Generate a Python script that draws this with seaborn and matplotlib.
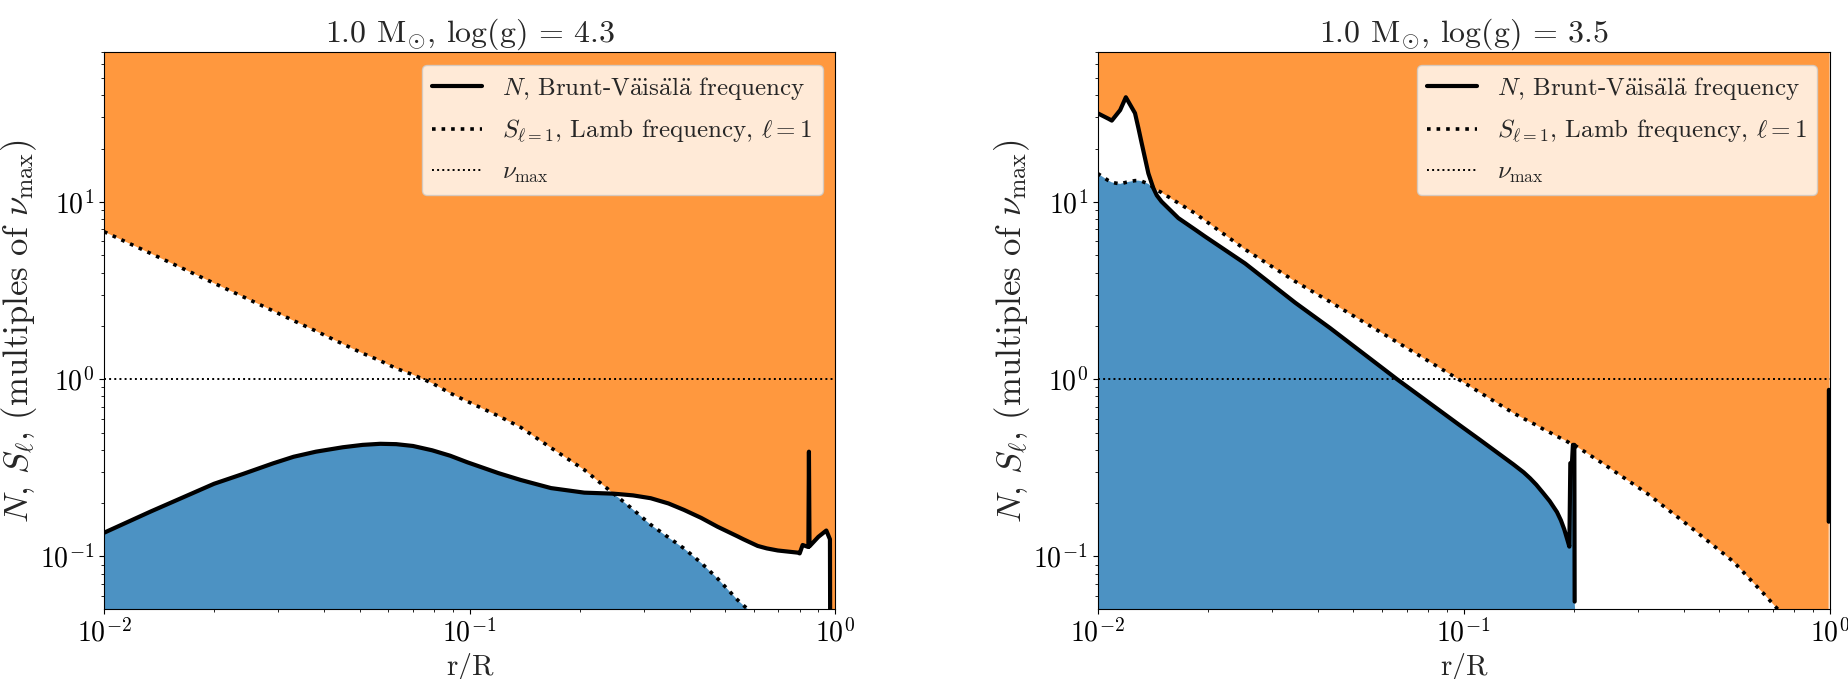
import numpy as np
import pandas as pd
import matplotlib.pyplot as plt
from matplotlib.lines import Line2D
import seaborn as sns

nan = np.nan

# left panel, log(g) = 4.3
left_r = [0.01, 0.0134, 0.02, 0.024, 0.029, 0.033, 0.038, 0.045, 0.051, 0.057,
          0.063, 0.070, 0.079, 0.0885, 0.0985, 0.12, 0.138, 0.167, 0.206, 0.247,
          0.254, 0.28, 0.313, 0.35, 0.386, 0.43, 0.477, 0.54, 0.561, 0.614,
          0.65, 0.697, 0.791, 0.80, 0.815, 0.845, 0.848, 0.851, 0.90, 0.946,
          0.968, 0.971, 0.98, 1.0]
left_N = [0.136, 0.179, 0.257, 0.292, 0.335, 0.365, 0.39, 0.413, 0.426, 0.432,
          0.430, 0.420, 0.397, 0.370, 0.340, 0.295, 0.270, 0.243, 0.229, 0.226,
          0.225, 0.221, 0.213, 0.199, 0.183, 0.165, 0.147, 0.13, 0.125, 0.1146,
          0.111, 0.108, 0.105, 0.104, 0.116, 0.113, 0.39, 0.114, 0.129, 0.140,
          0.125, 0.01, nan, nan]
left_S = [6.8, 5.13, 3.48, 2.92, 2.43, 2.14, 1.87, 1.58, 1.40, 1.27,
          1.15, 1.06, 0.95, 0.834, 0.75, 0.62, 0.535, 0.41, 0.308, 0.227,
          0.217, 0.184, 0.151, 0.128, 0.111, 0.092, 0.075, 0.057, 0.053, 0.045,
          0.04, 0.035, 0.026, 0.025, 0.024, 0.022, 0.022, 0.022, 0.018, 0.015,
          0.014, 0.014, 0.013, 0.012]

# right panel, log(g) = 3.5
right_r = [0.01, 0.01071, 0.01094, 0.01153, 0.01195, 0.01266, 0.01294, 0.0132, 0.01377, 0.0142,
           0.01452, 0.01496, 0.01663, 0.01845, 0.01968, 0.0253, 0.0347, 0.0431, 0.0658, 0.0968,
           0.111, 0.137, 0.146, 0.152, 0.158, 0.165, 0.172, 0.180, 0.1845, 0.1885,
           0.192, 0.1946, 0.1958, 0.1978, 0.1990, 0.2008, 0.2012, 0.241, 0.317, 0.416,
           0.546, 0.659, 0.718, 0.80, 0.90, 0.994, 0.995, 0.996, 1.0]
right_N = [31.7, 29.5, 28.8, 33.0, 39.0, 31.7, 26.0, 21.5, 14.5, 12.0,
           10.9, 10.05, 8.11, 7.0, 6.38, 4.5, 2.7, 1.95, 1.0, 0.557,
           0.454, 0.33, 0.298, 0.276, 0.254, 0.228, 0.205, 0.178, 0.16, 0.142,
           0.125, 0.1136, 0.336, 0.336, 0.426, 0.426, 0.0556, nan, nan, nan,
           nan, nan, nan, nan, nan, nan, 0.157, 0.871, nan]
right_S = [14.5, 13.2, 12.9, 12.65, 12.9, 13.2, 13.2, 13.1, 12.65, 12.1,
           11.7, 11.3, 9.86, 8.65, 7.85, 5.4, 3.56, 2.74, 1.62, 1.0,
           0.84, 0.643, 0.60, 0.573, 0.551, 0.523, 0.501, 0.476, 0.464, 0.455,
           0.445, 0.437, 0.435, 0.43, 0.428, 0.424, 0.424, 0.333, 0.227, 0.147,
           0.0935, 0.062, 0.051, 0.04, 0.03, 0.02, 0.02, 0.02, 0.02]

titles = [r'1.0 M$_{\odot}$, log(g) = 4.3',
          r'1.0 M$_{\odot}$, log(g) = 3.5']
legend_labels = [r'$N$, Brunt-V$\ddot{\mathrm{a}}$is$\ddot{\mathrm{a}}$l$\ddot{\mathrm{a}}$ frequency',
                 r'$S_{\ell=1}$, Lamb frequency, $\ell = 1$',
                 r'$\nu_{\mathrm{max}}$']
ylabel = r'$N$, $S_\ell$, (multiples of $\nu_{\mathrm{max}}$)'

sns.set_style('ticks')
plt.rcParams.update({
    'font.family': ['cmr10', 'STIXGeneral'],
    'mathtext.fontset': 'cm',
    'axes.formatter.use_mathtext': True,
    'axes.unicode_minus': False,
    'axes.edgecolor': 'black',
    'xtick.color': 'black',
    'ytick.color': 'black',
})

fig = plt.figure(figsize=(18.48, 6.79), dpi=100)
ax1 = fig.add_axes([0.0563, 0.1031, 0.3956, 0.8203])
ax2 = fig.add_axes([0.5939, 0.1031, 0.3961, 0.8203])


def draw_panel(ax, r, N, S, title):
    r = np.array(r)
    N = np.array(N)
    S = np.array(S)
    ax.set_xscale('log')
    ax.set_yscale('log')

    # g-mode cavity below, p-mode cavity above
    blue_top = np.where(np.isnan(N), 1e-4, np.fmin(N, S))
    orange_bottom = np.fmax(N, S)
    ax.fill_between(r, 1e-4, blue_top, color='tab:blue', alpha=0.8, lw=0)
    ax.fill_between(r, orange_bottom, 1e4, color='tab:orange', alpha=0.8, lw=0)

    seg = np.cumsum(np.isnan(N))
    df = pd.DataFrame({'r': r, 'N': N, 'seg': seg}).dropna()
    sns.lineplot(data=df, x='r', y='N', units='seg', estimator=None, sort=False,
                 color='k', lw=3, ax=ax)
    sns.lineplot(x=r, y=S, color='k', ls=':', lw=2.6, ax=ax)
    ax.axhline(1.0, color='k', ls=':', lw=1.4)

    ax.set_xlim(1e-2, 1)
    ax.set_ylim(0.0505, 70.2)
    ax.set_title(title, fontsize=23)
    ax.set_xlabel('r/R', fontsize=21)
    ax.set_ylabel(ylabel, fontsize=25, labelpad=1)
    ax.tick_params(axis='both', which='major', labelsize=20)

    handles = [Line2D([], [], color='k', lw=3),
               Line2D([], [], color='k', ls=':', lw=2.6),
               Line2D([], [], color='k', ls=':', lw=1.4)]
    ax.legend(handles, legend_labels, loc='upper right', fontsize=18,
              labelspacing=0.65)


draw_panel(ax1, left_r, left_N, left_S, titles[0])
draw_panel(ax2, right_r, right_N, right_S, titles[1])

fig.savefig('out.png', dpi=100)
